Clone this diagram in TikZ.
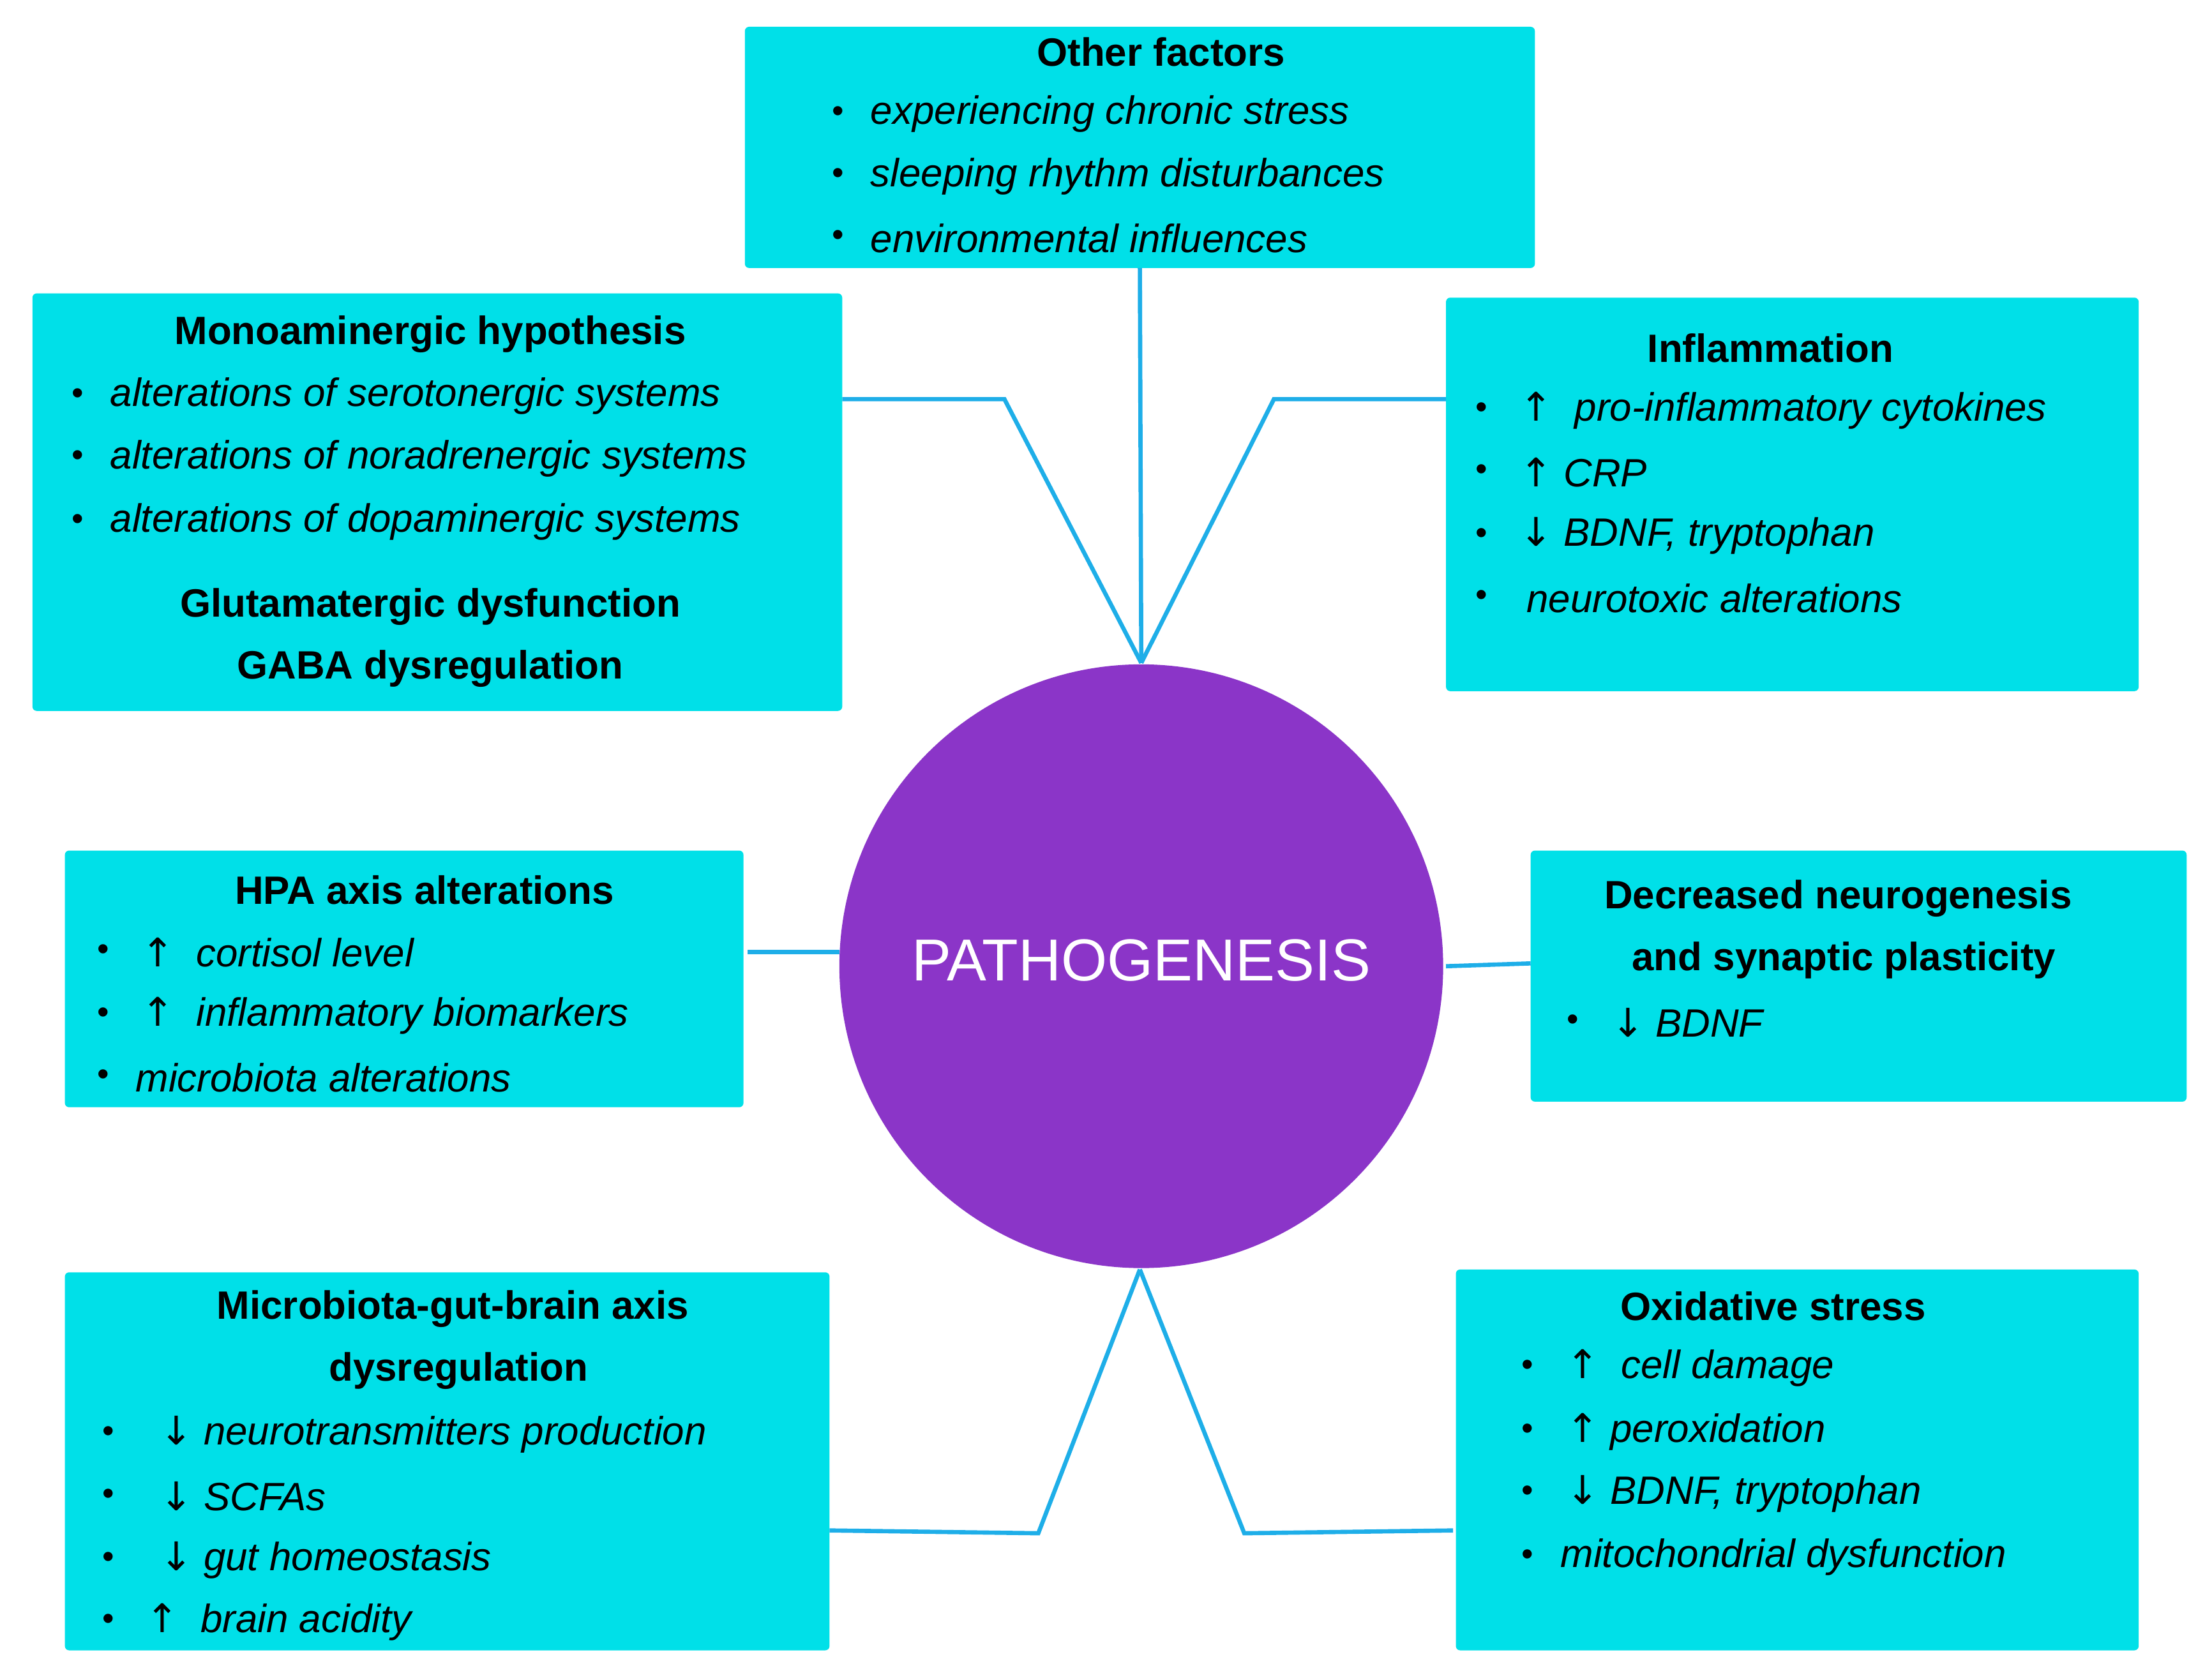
\documentclass[tikz,border=0pt]{standalone}
\usepackage{fontspec}
\setmainfont{Liberation Sans}
\newfontfamily\arr{DejaVu Sans}
\definecolor{boxc}{HTML}{00E0E8}
\definecolor{circc}{HTML}{8B35C8}
\definecolor{linec}{HTML}{1EAEE8}
\newcommand{\UP}{{\upshape\arr ↑}}
\newcommand{\DN}{{\upshape\arr ↓}}
\begin{document}
\begin{tikzpicture}[x=1pt,y=-1pt,
  box/.style={fill=boxc,rounded corners=3pt},
  conn/.style={draw=linec,line width=3pt},
  ttl/.style={font=\fontsize{28}{30}\selectfont\bfseries,anchor=center,inner sep=0},
  itm/.style={font=\fontsize{28}{30}\selectfont\itshape,anchor=west,inner sep=0},
  bul/.style={font=\fontsize{24}{26}\selectfont,anchor=center,inner sep=0}]
\useasboundingbox (0,0) rectangle (1568,1191);
% boxes
\fill[box] (528,19) rectangle (1088,190); \coordinate (ofb) at (808,190);
\fill[box] (23,208) rectangle (597,504); \coordinate (mo) at (597,283);
\fill[box] (1025,211) rectangle (1516,490); \coordinate (in) at (1025,283);
\fill[box] (46,603) rectangle (527,785); \coordinate (hp) at (530,675);
\fill[box] (1085,603) rectangle (1550,781); \coordinate (de) at (1085,683);
\fill[box] (46,902) rectangle (588,1170); \coordinate (mi) at (588,1085);
\fill[box] (1032,900) rectangle (1516,1170); \coordinate (ox) at (1030,1085);
\node[circle,fill=circc,minimum size=428pt,inner sep=0] (c) at (809,685) {};
\node[text=white,font=\fontsize{42}{44}\selectfont,inner sep=0] (ct) at (809,681) {PATHOGENESIS};
\coordinate (top) at (809,470); \coordinate (bot) at (808,900);
\coordinate (mb) at (712,283); \coordinate (ib) at (903,283);
\coordinate (mib) at (736,1087); \coordinate (oxb) at (882,1087);
\coordinate (cl) at (595,675); \coordinate (cr) at (1025,685);
\draw[conn] (ofb) -- (top);
\draw[conn] (mo) -- (mb) -- (top);
\draw[conn] (in) -- (ib) -- (top);
\draw[conn] (hp) -- (cl);
\draw[conn] (cr) -- (de);
\draw[conn] (mi) -- (mib) -- (bot);
\draw[conn] (ox) -- (oxb) -- (bot);
% Other factors
\node[ttl] (t1) at (823,37) {Other factors};
\foreach \y/\t [count=\i] in {81/experiencing chronic stress,125/sleeping rhythm disturbances,169/environmental influences}{
  \node[bul] (b1\i) at (594,\y) {•}; \node[itm] (i1\i) at (617,\y) {\t};}
% Mono
\node[ttl] (t2) at (305,237) {Monoaminergic hypothesis};
\foreach \y/\t [count=\i] in {281/alterations of serotonergic systems,325/alterations of noradrenergic systems,370/alterations of dopaminergic systems}{
  \node[bul] (b2\i) at (55,\y) {•}; \node[itm] (i2\i) at (78,\y) {\t};}
\node[ttl] (t2b) at (305,430) {Glutamatergic dysfunction};
\node[ttl] (t2c) at (305,474) {GABA dysregulation};
% Inflammation
\node[ttl] (t3) at (1255,247) {Inflammation};
\foreach \y [count=\i] in {291,335,380,424}{\node[bul] (b3\i) at (1050,\y) {•};}
\node[itm] (i31) at (1077,291) {\UP\ \ pro-inflammatory cytokines};
\node[itm] (i32) at (1077,335) {\UP\ CRP};
\node[itm] (i33) at (1077,380) {\DN\ BDNF, tryptophan};
\node[itm] (i34) at (1082,424) {neurotoxic alterations};
% HPA
\node[ttl] (t4) at (301,631) {HPA axis alterations};
\foreach \y [count=\i] in {675,720,764}{\node[bul] (b4\i) at (73,\y) {•};}
\node[itm] (i41) at (100,675) {\UP\ \ cortisol level};
\node[itm] (i42) at (100,720) {\UP\ \ inflammatory biomarkers};
\node[itm] (i43) at (96,764) {microbiota alterations};
% Decreased
\node[ttl] (t5) at (1303,637) {Decreased neurogenesis};
\node[ttl] (t5b) at (1307,681) {and synaptic plasticity};
\node[bul] (b51) at (1115,725) {•};
\node[itm] (i51) at (1142,725) {\DN\ BDNF};
% Microbiota
\node[ttl] (t6) at (321,928) {Microbiota-gut-brain axis};
\node[ttl] (t6b) at (325,972) {dysregulation};
\foreach \y [count=\i] in {1017,1061,1106,1150}{\node[bul] (b6\i) at (77,\y) {•};}
\node[itm] (i61) at (113,1017) {\DN\ neurotransmitters production};
\node[itm] (i62) at (113,1061) {\DN\ SCFAs};
\node[itm] (i63) at (113,1106) {\DN\ gut homeostasis};
\node[itm] (i64) at (103,1150) {\UP\ \ brain acidity};
% Oxidative
\node[ttl] (t7) at (1257,926) {Oxidative stress};
\foreach \y [count=\i] in {970,1015,1059,1104}{\node[bul] (b7\i) at (1083,\y) {•};}
\node[itm] (i71) at (1110,970) {\UP\ \ cell damage};
\node[itm] (i72) at (1110,1015) {\UP\ peroxidation};
\node[itm] (i73) at (1110,1059) {\DN\ BDNF, tryptophan};
\node[itm] (i74) at (1106,1104) {mitochondrial dysfunction};
\end{tikzpicture}
\end{document}
